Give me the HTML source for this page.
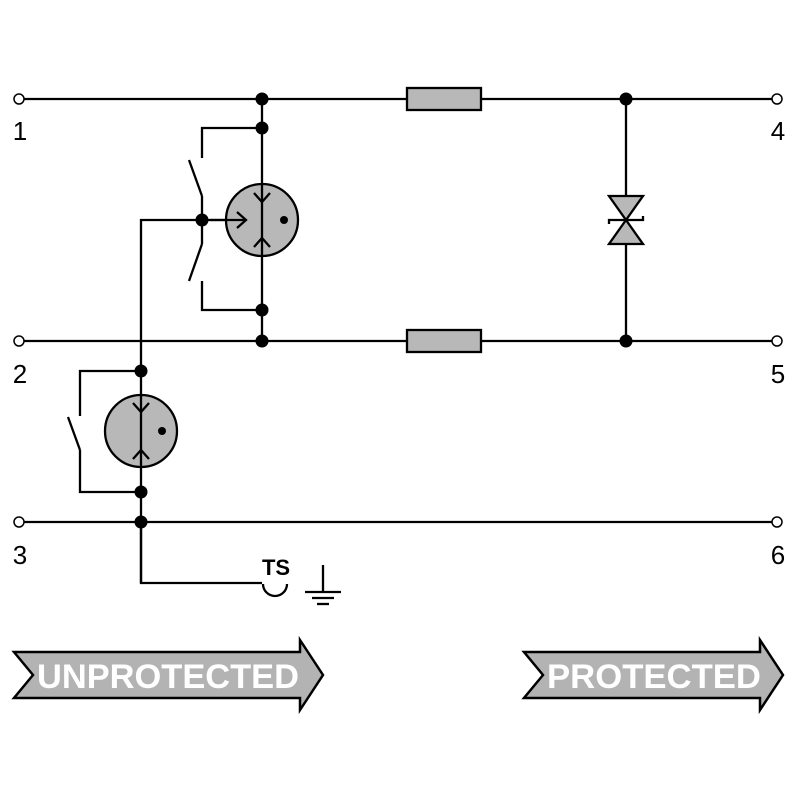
<!DOCTYPE html>
<html><head><style>body{margin:0;background:#fff}</style></head><body>
<svg width="800" height="800" viewBox="0 0 800 800" xmlns="http://www.w3.org/2000/svg" font-family="Liberation Sans, sans-serif">
<g stroke="#000" stroke-width="2.3" fill="none">
<line x1="23" y1="99" x2="773" y2="99"/>
<line x1="23" y1="341" x2="773" y2="341"/>
<line x1="23" y1="522" x2="773" y2="522"/>
<line x1="262" y1="99" x2="262" y2="341"/>
<line x1="626" y1="99" x2="626" y2="341"/>
<polyline points="262,128 202,128 202,158"/>
<line x1="189" y1="160" x2="202" y2="196"/>
<line x1="202" y1="196" x2="202" y2="244"/>
<line x1="202" y1="244" x2="189" y2="281"/>
<polyline points="202,281 202,310 262,310"/>
<polyline points="141,583 141,220 245,220"/>
<polyline points="141,371 80,371 80,416"/>
<line x1="68" y1="417" x2="80" y2="450"/>
<polyline points="80,450 80,492 141,492"/>
<polyline points="141,522 141,583 262,583"/>
<path d="M263,584 A12,12 0 0 0 287,584"/>
<line x1="323" y1="565" x2="323" y2="592"/>
<line x1="305" y1="592" x2="341" y2="592"/>
<line x1="312" y1="598" x2="334" y2="598"/>
<line x1="317" y1="604" x2="329" y2="604"/>
</g>
<g stroke="#000" stroke-width="2.3" fill="#b8b8b8">
<rect x="407" y="88" width="74" height="22"/>
<rect x="407" y="330" width="74" height="22"/>
<circle cx="262" cy="220" r="36"/>
<circle cx="141" cy="431" r="36"/>
<polygon points="609,196 643,196 626,220"/>
<polygon points="609,244 643,244 626,220"/>
</g>
<g stroke="#000" stroke-width="2.3" fill="none">
<line x1="262" y1="184" x2="262" y2="256"/>
<line x1="141" y1="395" x2="141" y2="467"/>
<line x1="210" y1="220" x2="245" y2="220"/>
<polyline points="254,193 262,202 270,193"/>
<polyline points="254,247 262,238 270,247"/>
<polyline points="237,212 246,220 237,228"/>
<polyline points="133,403 141,412 149,403"/>
<polyline points="133,459 141,450 149,459"/>
<polyline points="609,224 609,220 643,220 643,216"/>
</g>
<g fill="#000">
<circle cx="262" cy="99" r="6.5"/><circle cx="262" cy="128" r="6.5"/>
<circle cx="262" cy="310" r="6.5"/><circle cx="262" cy="341" r="6.5"/>
<circle cx="626" cy="99" r="6.5"/><circle cx="626" cy="341" r="6.5"/>
<circle cx="202" cy="220" r="6.5"/>
<circle cx="141" cy="371" r="6.5"/><circle cx="141" cy="492" r="6.5"/><circle cx="141" cy="522" r="6.5"/>
<circle cx="284" cy="220" r="4"/><circle cx="162" cy="431" r="4"/>
</g>
<g fill="#fff" stroke="#000" stroke-width="1.5">
<circle cx="19" cy="99" r="5"/><circle cx="19" cy="341" r="5"/><circle cx="19" cy="522" r="5"/>
<circle cx="777" cy="99" r="5"/><circle cx="777" cy="341" r="5"/><circle cx="777" cy="522" r="5"/>
</g>
<g font-size="26" fill="#000" text-anchor="middle">
<text x="20" y="140">1</text><text x="20" y="383">2</text><text x="20" y="564">3</text>
<text x="778" y="140">4</text><text x="778" y="383">5</text><text x="778" y="564">6</text>
</g>
<text x="276" y="575" font-size="22" font-weight="bold" text-anchor="middle">TS</text>
<polygon points="14,652 300,652 300,640 323,675 300,710 300,698 14,698 33,675" fill="#b3b3b3" stroke="#000" stroke-width="2.5"/>
<polygon points="524,652 760,652 760,640 783,675 760,710 760,698 524,698 543,675" fill="#b3b3b3" stroke="#000" stroke-width="2.5"/>
<text x="168" y="688" font-size="34" font-weight="bold" fill="#fff" text-anchor="middle" textLength="262" lengthAdjust="spacingAndGlyphs">UNPROTECTED</text>
<text x="654" y="688" font-size="34" font-weight="bold" fill="#fff" text-anchor="middle" textLength="214" lengthAdjust="spacingAndGlyphs">PROTECTED</text>
</svg>
</body></html>
